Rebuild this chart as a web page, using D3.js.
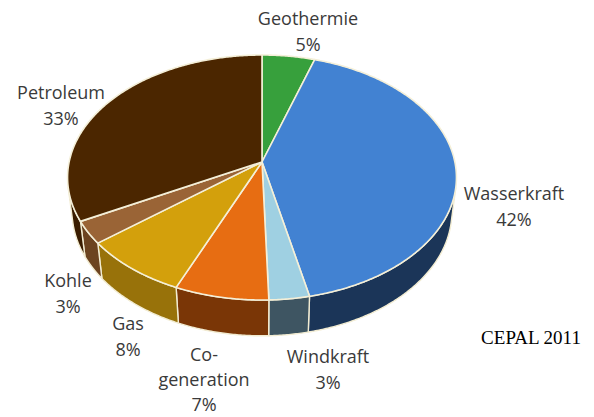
<!DOCTYPE html>
<html>
<head>
<meta charset="utf-8">
<script src="https://cdn.jsdelivr.net/npm/d3@7"></script>
<style>
  html, body { margin: 0; padding: 0; background: #fff; }
  svg { display: block; }
</style>
</head>
<body>
<svg id="chart" width="594" height="417"></svg>
<script>
// ---- data ----
const categories = ["Geothermie", "Wasserkraft", "Windkraft", "Co-generation", "Gas", "Kohle", "Petroleum"];
const values = [5, 42, 3, 7, 8, 3, 33];
const labelLines = [["Geothermie"], ["Wasserkraft"], ["Windkraft"], ["Co-", "generation"], ["Gas"], ["Kohle"], ["Petroleum"]];
const source = "CEPAL 2011";

// ---- styles / layout ----
const topColors  = ["#37a03c", "#4282d2", "#9fd0e2", "#e76d12", "#d3a00c", "#9a6436", "#4b2600"];
const sideColors = ["#206a26", "#1b3558", "#3e5562", "#7a3606", "#98720a", "#6c4420", "#3a1d00"];
const labelPos = [[308, 18], [514, 193], [328, 356], [204, 354], [128, 323], [68, 280], [61, 92]];
const lineGaps = [26, 26, 26, 25, 26, 26, 26];

const svg = d3.select("#chart");

// perspective projection of a unit disk
const cx = 262, cy = 162, F = 1190, sPhi = 0.625, cPhi = 0.781, D = 6.17, thick = 0.235;
function proj(theta, r, h) {
  const u = r * Math.sin(theta), v = -r * Math.cos(theta);
  const xc = u, yc = v * sPhi - h * cPhi, zc = D - v * cPhi - h * sPhi;
  return [cx + F * xc / zc, cy + F * yc / zc];
}

const pie = d3.pie().sort(null).value(d => d)(values);
const line = d3.line();
const step = Math.PI / 360;
function arcPts(a0, a1, h) {
  const n = Math.max(2, Math.ceil((a1 - a0) / step));
  return d3.range(n + 1).map(i => proj(a0 + (a1 - a0) * i / n, 1, h));
}

// visible range of the outer wall
const thVis = Math.acos(-1 / (D * cPhi));
const visA = thVis, visB = 2 * Math.PI - thVis;

const walls = svg.append("g");
pie.forEach((p, i) => {
  const a0 = Math.max(p.startAngle, visA), a1 = Math.min(p.endAngle, visB);
  if (a1 <= a0) return;
  const topArc = arcPts(a0, a1, 0);
  const botArc = arcPts(a0, a1, -thick).reverse();
  walls.append("path")
    .attr("d", line(topArc.concat(botArc)) + "Z")
    .attr("fill", sideColors[i])
    .attr("stroke", "#f2ecd2")
    .attr("stroke-width", 1.4)
    .attr("stroke-linejoin", "round");
});

const tops = svg.append("g");
pie.forEach((p, i) => {
  const pts = [proj(0, 0, 0)].concat(arcPts(p.startAngle, p.endAngle, 0));
  tops.append("path")
    .attr("d", line(pts) + "Z")
    .attr("fill", topColors[i])
    .attr("stroke", "#f4efd8")
    .attr("stroke-width", 1.6)
    .attr("stroke-linejoin", "round");
});

// labels
const lab = svg.append("g")
  .attr("font-family", "'Open Sans', sans-serif")
  .attr("font-size", 18)
  .attr("fill", "#3a3a3a")
  .attr("text-anchor", "middle");
categories.forEach((c, i) => {
  const lines = labelLines[i].concat([values[i] + "%"]);
  const [x, y] = labelPos[i];
  const t = lab.append("text").attr("x", x).attr("y", y).attr("dominant-baseline", "central");
  lines.forEach((s, k) => {
    t.append("tspan").attr("x", x).attr("y", y + k * lineGaps[i]).text(s);
  });
});

svg.append("text")
  .attr("x", 531).attr("y", 337)
  .attr("text-anchor", "middle")
  .attr("dominant-baseline", "central")
  .attr("font-family", "'Liberation Serif', 'Times New Roman', serif")
  .attr("font-size", 19)
  .attr("fill", "#000")
  .text(source);
</script>
</body>
</html>
